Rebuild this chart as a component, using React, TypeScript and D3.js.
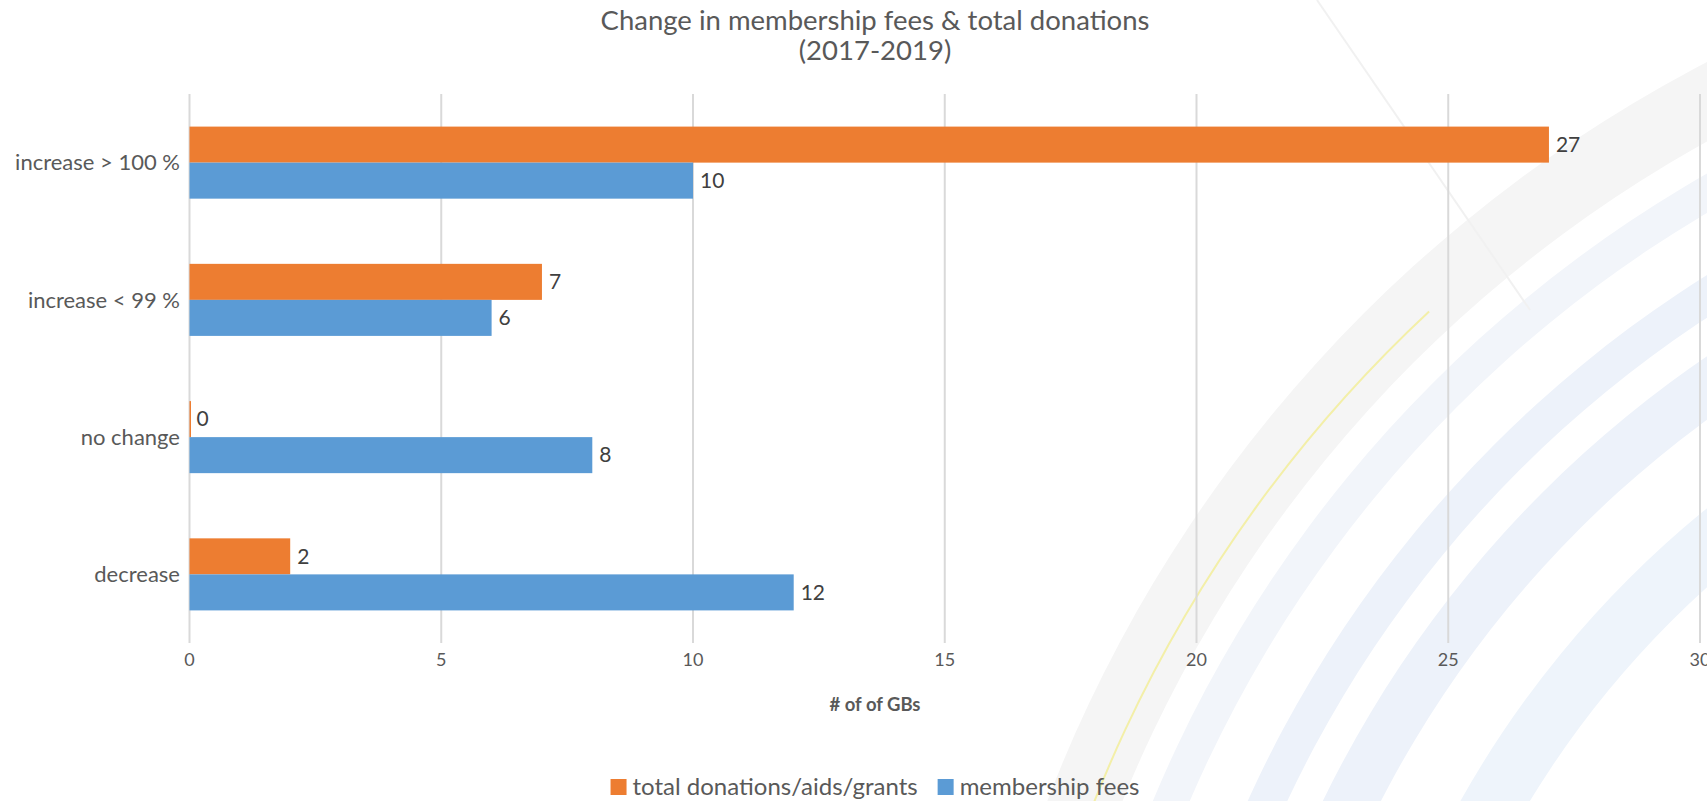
import React, { useEffect, useRef } from 'react';
import * as d3 from 'd3';

const categories = ['increase > 100 %', 'increase < 99 %', 'no change', 'decrease'];
const donations = [27, 7, 0, 2];
const membershipFees = [10, 6, 8, 12];
const seriesNames = ['total donations/aids/grants', 'membership fees'];
const seriesColors = ['#ED7D31', '#5B9BD5'];
const xTicks = [0, 5, 10, 15, 20, 25, 30];
const titleLines = ['Change in membership fees & total donations', '(2017-2019)'];
const axisTitle = '# of of GBs';

const W = 1707;
const H = 801;
const FONT = 'Lato, "Open Sans", sans-serif';

const App = () => {
  const ref = useRef<SVGSVGElement>(null);

  useEffect(() => {
    const svg = d3.select(ref.current);
    svg.selectAll('*').remove();

    // faint watermark in the background
    const wm = svg.append('g');
    const cx = 2350, cy = 1300;
    const arc = (r0: number, r1: number, color: string) =>
      wm.append('path')
        .attr('transform', `translate(${cx},${cy})`)
        .attr('d', d3.arc()({ innerRadius: r0, outerRadius: r1, startAngle: -Math.PI / 2, endAngle: 0 }) as string)
        .attr('fill', color);
    arc(1325, 1395, '#F5F5F5');
    arc(1263, 1297, '#F2F5FA');
    arc(1174, 1210, '#EDF2FA');
    arc(1090, 1142, '#EDF2FA');
    arc(960, 1020, '#EEF4FB');
    wm.append('line')
      .attr('x1', 1317).attr('y1', 0)
      .attr('x2', 1530).attr('y2', 310)
      .attr('stroke', '#F1F1F1')
      .attr('stroke-width', 2);
    wm.append('path')
      .attr('transform', `translate(${cx},${cy})`)
      .attr('d', d3.arc()({ innerRadius: 1350, outerRadius: 1352, startAngle: -Math.PI / 2 + 0.05, endAngle: -0.75 }) as string)
      .attr('fill', '#F3EFA8');

    const margin = { top: 94, left: 189.5, right: W - 1700, bottom: H - 643 };
    const x = d3.scaleLinear().domain([0, 30]).range([margin.left, W - margin.right]);
    const y = d3.scaleBand<string>()
      .domain(categories)
      .range([margin.top, H - margin.bottom])
      .paddingInner(0.475)
      .paddingOuter(0.2375);
    const sub = d3.scaleBand<number>().domain([0, 1]).range([0, y.bandwidth()]);

    // gridlines
    svg.append('g')
      .selectAll('line')
      .data(xTicks)
      .enter()
      .append('line')
      .attr('x1', d => x(d))
      .attr('x2', d => x(d))
      .attr('y1', margin.top)
      .attr('y2', H - margin.bottom)
      .attr('stroke', '#D9D9D9')
      .attr('stroke-width', 2);

    // tick labels
    svg.append('g')
      .selectAll('text')
      .data(xTicks)
      .enter()
      .append('text')
      .attr('x', d => x(d))
      .attr('y', 666)
      .attr('text-anchor', 'middle')
      .attr('font-family', FONT)
      .attr('font-size', 18)
      .attr('fill', '#595959')
      .text(d => d);

    // category labels
    svg.append('g')
      .selectAll('text')
      .data(categories)
      .enter()
      .append('text')
      .attr('x', 180)
      .attr('y', d => (y(d) ?? 0) + y.bandwidth() / 2)
      .attr('dy', '0.35em')
      .attr('text-anchor', 'end')
      .attr('font-family', FONT)
      .attr('font-size', 22)
      .attr('fill', '#595959')
      .text(d => d);

    const series = [donations, membershipFees];
    series.forEach((vals, si) => {
      const g = svg.append('g');
      g.selectAll('rect')
        .data(vals)
        .enter()
        .append('rect')
        .attr('x', x(0))
        .attr('y', (d, i) => (y(categories[i]) ?? 0) + (sub(si) ?? 0))
        .attr('width', d => Math.max(1.5, x(d) - x(0)))
        .attr('height', sub.bandwidth())
        .attr('fill', seriesColors[si]);
      g.selectAll('text')
        .data(vals)
        .enter()
        .append('text')
        .attr('x', d => x(d) + 7)
        .attr('y', (d, i) => (y(categories[i]) ?? 0) + (sub(si) ?? 0) + sub.bandwidth() / 2)
        .attr('dy', '0.35em')
        .attr('font-family', FONT)
        .attr('font-size', 21)
        .attr('fill', '#404040')
        .text(d => d);
    });

    // title
    svg.append('g')
      .selectAll('text')
      .data(titleLines)
      .enter()
      .append('text')
      .attr('x', 875)
      .attr('y', (d, i) => 30 + i * 30)
      .attr('text-anchor', 'middle')
      .attr('font-family', FONT)
      .attr('font-size', 27.5)
      .attr('fill', '#595959')
      .text(d => d);

    // axis title
    svg.append('text')
      .attr('x', 875)
      .attr('y', 711)
      .attr('text-anchor', 'middle')
      .attr('font-family', FONT)
      .attr('font-size', 18.5)
      .attr('font-weight', 'bold')
      .attr('fill', '#595959')
      .text(axisTitle);

    // legend, centred under the chart
    const legend = svg.append('g');
    let cursor = 0;
    seriesNames.forEach((name, i) => {
      const item = legend.append('g').attr('transform', `translate(${cursor},0)`);
      item.append('rect')
        .attr('x', 0)
        .attr('y', -16)
        .attr('width', 16)
        .attr('height', 16)
        .attr('fill', seriesColors[i]);
      const t = item.append('text')
        .attr('x', 22)
        .attr('y', 0)
        .attr('font-family', FONT)
        .attr('font-size', 24)
        .attr('fill', '#595959')
        .text(name);
      const len = (t.node() as SVGTextElement).getComputedTextLength();
      cursor += 22 + len + 20;
    });
    const total = cursor - 20;
    legend.attr('transform', `translate(${875 - total / 2},795)`);
  }, []);

  return (
    <svg
      ref={ref}
      width={W}
      height={H}
      style={{ position: 'absolute', left: 0, top: 0, background: '#fff' }}
    />
  );
};

export default App;
